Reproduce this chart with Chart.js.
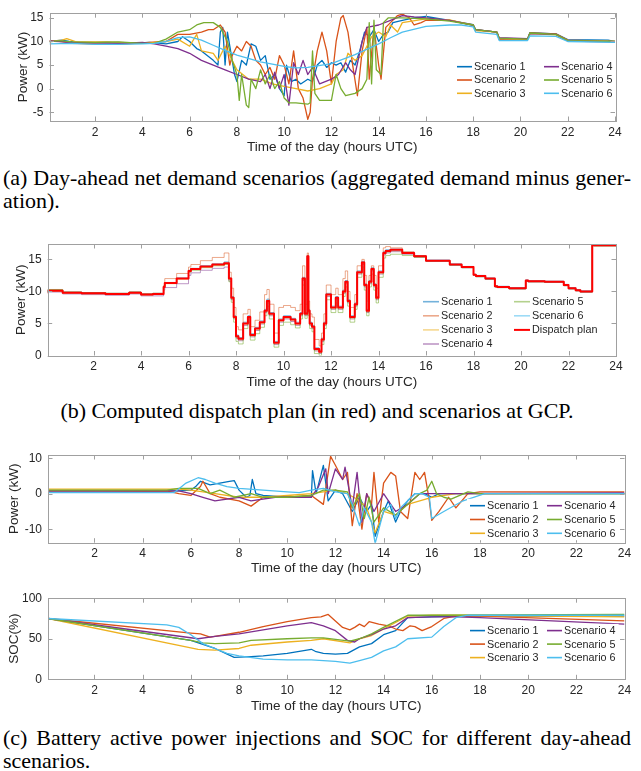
<!DOCTYPE html>
<html>
<head>
<meta charset="utf-8">
<script src="https://cdn.jsdelivr.net/npm/chart.js@4"></script>
<style>
  body { margin: 0; background: #fff; width: 641px; height: 771px; position: relative; overflow: hidden; }
  canvas { position: absolute; left: 0; }
  .cap { position: absolute; left: 3px; width: 628px; font-family: "Liberation Serif", "Times New Roman", serif;
         font-size: 22px; line-height: 23px; color: #000; white-space: nowrap; }
  .just { text-align: justify; text-align-last: justify; }
  .mid { text-align: center; }
</style>
</head>
<body>
<canvas id="netChart" width="641" height="160" style="top:0px"></canvas>
<div class="cap just" style="top:166px">(a) Day-ahead net demand scenarios (aggregated demand minus gener-</div>
<div class="cap" style="top:189px">ation).</div>

<canvas id="gcpChart" width="641" height="170" style="top:225px"></canvas>
<div class="cap mid" style="top:399px">(b) Computed dispatch plan (in red) and scenarios at GCP.</div>

<canvas id="battChart" width="641" height="140" style="top:440px"></canvas>
<canvas id="socChart" width="641" height="135" style="top:585px"></canvas>
<div class="cap just" style="top:726px">(c) Battery active power injections and SOC for different day-ahead</div>
<div class="cap" style="top:749px">scenarios.</div>

<script>
// ---- tick labels ----
const hourTicks = [2, 4, 6, 8, 10, 12, 14, 16, 18, 20, 22, 24];
const netTicks = [-5, 0, 5, 10, 15];
const gcpTicks = [0, 5, 10, 15];
const battTicks = [-10, 0, 10];
const socTicks = [0, 50, 100];

const scenarioNames = ['Scenario 1', 'Scenario 2', 'Scenario 3', 'Scenario 4', 'Scenario 5', 'Scenario 6'];

// ---- (a) day-ahead net demand, [hour, kW] ----
const net1 = [[0.07,10.0],[0.6,10.3],[0.9,10.0],[1.5,9.7],[2.5,9.8],[3.5,9.6],[4.3,9.8],[5.0,9.5],[5.5,10.0],[5.7,11.0],[6.0,10.0],[6.3,8.5],[6.5,8.0],[7.0,6.0],[7.2,5.0],[7.3,12.0],[7.4,13.0],[7.5,5.0],[7.6,12.0],[7.7,9.0],[7.9,3.0],[8.0,1.5],[8.2,6.0],[8.4,5.0],[8.6,9.5],[8.8,9.0],[9.0,6.0],[9.2,7.0],[9.4,2.0],[9.6,3.0],[9.8,0.0],[10.0,-1.5],[10.1,5.0],[10.3,1.5],[10.5,2.0],[10.7,1.0],[11.0,2.0],[11.2,1.5],[11.4,5.0],[11.6,6.0],[11.8,4.5],[12.0,5.5],[12.2,5.0],[12.4,5.5],[12.6,3.5],[12.8,6.0],[13.0,5.0],[13.2,8.0],[13.4,12.0],[13.6,11.0],[13.8,12.5],[14.0,10.0],[14.2,11.5],[14.4,12.0],[14.6,14.0],[15.0,14.5],[15.5,15.0],[16.0,15.3],[17.0,14.5],[18.0,13.6],[18.1,12.5],[19.0,12.0],[19.1,10.5],[20.3,10.5],[20.4,11.9],[21.5,11.6],[22.0,10.4],[23.7,10.3],[24.0,10.0]];
const net2 = [[0.07,10.2],[0.6,10.0],[1.0,9.6],[2.0,9.5],[3.0,9.4],[4.0,9.7],[4.6,9.9],[5.0,10.0],[5.5,11.5],[6.0,11.5],[6.5,12.0],[6.8,12.5],[7.0,12.5],[7.3,13.5],[7.5,12.0],[7.7,5.0],[7.8,7.0],[8.0,9.0],[8.2,8.0],[8.4,10.0],[8.6,9.0],[8.8,6.0],[9.0,5.0],[9.2,3.0],[9.4,4.5],[9.6,2.0],[9.8,7.0],[10.0,5.0],[10.2,1.0],[10.4,8.0],[10.6,0.0],[10.8,-2.0],[11.0,-6.5],[11.1,-5.0],[11.2,2.0],[11.4,8.0],[11.5,10.0],[11.6,12.0],[11.8,8.0],[12.0,1.0],[12.2,10.0],[12.4,15.0],[12.5,15.5],[12.7,12.0],[12.9,5.0],[13.1,-1.5],[13.3,8.0],[13.5,13.0],[13.6,2.0],[13.8,13.0],[14.0,5.0],[14.1,2.0],[14.3,13.0],[14.5,14.0],[14.8,15.5],[15.0,15.8],[15.3,15.0],[15.5,13.5],[15.8,14.0],[16.0,14.5],[17.0,14.5],[18.0,13.5],[18.1,12.5],[19.0,12.0],[19.1,10.5],[20.3,10.5],[20.4,11.8],[21.5,11.6],[22.0,10.3],[24.0,10.0]];
const net3 = [[0.07,10.0],[0.6,10.3],[0.8,10.6],[1.2,9.9],[2.5,9.9],[3.5,9.7],[4.5,9.8],[5.0,10.0],[5.5,10.5],[6.0,9.0],[6.3,11.5],[6.5,8.0],[7.0,7.5],[7.2,6.0],[7.5,9.0],[7.8,6.0],[8.0,4.0],[8.5,2.0],[9.0,2.0],[9.5,1.0],[10.0,0.5],[10.5,0.0],[11.0,-0.5],[11.5,0.0],[12.0,1.0],[12.2,3.0],[12.5,4.0],[12.7,7.5],[13.0,6.0],[13.3,7.0],[13.5,9.0],[13.7,11.0],[14.0,12.0],[14.3,11.0],[14.5,13.5],[14.8,12.0],[15.0,14.0],[16.0,14.8],[17.0,14.6],[18.0,13.4],[18.1,12.3],[19.0,12.0],[19.1,10.6],[20.3,10.5],[20.4,11.7],[21.5,11.4],[22.0,10.2],[24.0,10.0]];
const net4 = [[0.07,10.1],[0.5,10.0],[1.0,9.8],[2.0,9.7],[3.0,9.6],[4.0,9.8],[4.5,9.5],[5.0,9.0],[5.5,8.5],[6.0,7.5],[6.5,6.0],[7.0,5.0],[7.5,4.0],[8.0,3.0],[8.5,2.0],[9.0,1.5],[9.2,3.0],[9.4,0.0],[9.6,3.5],[9.8,0.0],[10.0,3.0],[10.2,-3.5],[10.4,5.5],[10.6,3.0],[10.8,6.0],[11.0,3.0],[11.2,4.5],[11.5,1.0],[12.0,2.0],[12.3,3.0],[12.6,5.5],[12.8,4.0],[13.0,3.0],[13.3,10.0],[13.5,13.0],[14.0,13.5],[14.5,14.5],[15.0,15.5],[15.5,15.2],[16.0,15.0],[17.0,14.5],[18.0,13.4],[18.1,12.5],[19.0,12.0],[19.1,10.8],[20.3,10.6],[20.4,11.7],[21.5,11.5],[22.0,10.1],[24.0,9.9]];
const net5 = [[0.07,9.9],[0.5,10.2],[1.0,9.9],[2.0,9.8],[3.0,9.9],[4.0,9.6],[4.5,9.6],[5.0,10.5],[5.5,12.0],[6.0,12.5],[6.3,13.5],[6.6,14.0],[7.0,14.0],[7.3,13.0],[7.6,10.0],[7.8,6.0],[8.0,3.0],[8.1,-2.5],[8.2,3.0],[8.4,-3.5],[8.5,-4.0],[8.6,2.0],[8.8,0.0],[9.0,4.0],[9.2,1.0],[9.4,3.0],[9.6,0.0],[9.8,1.5],[10.0,-2.0],[10.2,-3.0],[10.5,-3.0],[11.0,-3.3],[11.1,-3.0],[11.2,8.0],[11.3,-1.0],[11.5,-2.5],[12.0,-2.5],[12.2,3.0],[12.4,0.0],[12.6,-1.5],[13.0,-1.0],[13.3,0.0],[13.5,2.0],[13.6,14.0],[13.7,1.0],[13.8,14.5],[13.9,4.0],[14.1,3.0],[14.2,14.0],[14.4,15.0],[15.0,15.0],[16.0,14.8],[17.0,14.3],[18.0,13.5],[18.1,12.5],[19.0,12.0],[19.1,10.7],[20.3,10.5],[20.4,11.8],[21.5,11.5],[22.0,10.2],[24.0,10.0]];
const net6 = [[0.07,9.5],[1.0,9.6],[2.0,9.4],[3.0,9.4],[4.0,9.5],[4.5,9.6],[5.0,10.0],[5.5,10.8],[6.0,11.0],[6.5,10.3],[7.0,9.2],[7.5,8.1],[8.0,7.1],[9.0,5.7],[10.0,4.7],[10.5,4.4],[11.0,4.5],[12.0,5.3],[13.0,7.2],[14.0,9.5],[14.5,10.8],[15.0,12.0],[16.0,13.2],[17.0,13.5],[17.5,13.5],[18.0,13.1],[18.1,12.0],[19.0,11.5],[19.1,10.2],[20.3,10.2],[20.4,11.2],[21.5,11.1],[22.0,10.0],[24.0,9.8]];

// ---- (b) dispatch plan and scenarios at GCP (kW) on a shared hour grid ----
const gcpHours = [0.07, 0.7, 1.5, 2.5, 3.5, 4.0, 4.5, 4.95, 5.0, 5.5,
  6.0, 6.1, 6.5, 7.0, 7.5, 7.7, 7.8, 7.9, 8.0, 8.1,
  8.3, 8.5, 8.6, 8.8, 9.0, 9.2, 9.3, 9.4, 9.6, 9.8,
  10.0, 10.3, 10.5, 10.7, 10.8, 10.9, 11.0, 11.05, 11.1, 11.2,
  11.3, 11.5, 11.6, 11.7, 11.8, 12.0, 12.2, 12.3, 12.5, 12.6,
  12.7, 12.8, 13.0, 13.1, 13.3, 13.4, 13.5, 13.6, 13.7, 13.8,
  13.9, 14.0, 14.2, 14.3, 14.5, 15.0, 15.5, 16.0, 17.0, 17.5,
  18.0, 18.1, 18.5, 18.9, 19.0, 19.5, 20.2, 20.3, 21.0, 21.8,
  22.0, 22.3, 22.5, 23.0, 23.05, 24.0];
const dispatchPlan = [9.8, 10.1, 9.8, 9.7, 9.6, 9.8, 9.5, 9.6, 10.7, 11.3,
  12.0, 13.2, 13.5, 13.9, 14.2, 14.4, 12.0, 9.0, 6.0, 3.0,
  2.6, 5.0, 6.0, 3.2, 4.2, 5.2, 7.0, 8.5, 6.5, 2.0,
  5.5, 6.0, 5.6, 5.0, 6.5, 12.0, 6.5, 15.5, 7.0, 5.0,
  4.5, 1.0, 0.6, 2.5, 5.0, 9.5, 7.5, 9.0, 7.5, 10.0,
  11.5, 8.5, 6.0, 8.0, 13.0, 14.5, 11.0, 7.0, 11.5, 13.5,
  11.0, 9.0, 13.0, 16.0, 16.3, 16.5, 16.0, 15.5, 14.8, 14.2,
  13.8, 12.6, 12.4, 12.0, 10.8, 10.7, 10.5, 11.7, 11.6, 11.5,
  11.0, 10.5, 10.2, 10.0, 17.3, 17.2];
const gcp1 = [9.9, 10.2, 9.9, 9.8, 9.7, 9.9, 9.6, 9.7, 10.8, 11.4,
  12.1, 13.3, 13.6, 14.0, 14.3, 14.6, 12.1, 9.2, 6.2, 3.2,
  2.8, 5.2, 6.2, 3.4, 4.4, 5.4, 7.2, 8.8, 6.7, 2.2,
  5.7, 6.2, 5.8, 5.2, 6.7, 12.2, 6.7, 15.6, 7.2, 5.2,
  4.7, 1.2, 0.8, 2.7, 5.2, 9.7, 7.7, 9.2, 7.7, 10.2,
  11.7, 8.7, 6.2, 8.2, 13.2, 14.7, 11.2, 7.2, 11.7, 13.7,
  11.2, 9.2, 13.2, 16.2, 16.5, 16.6, 16.1, 15.6, 14.9, 14.3,
  13.9, 12.7, 12.5, 12.1, 10.9, 10.8, 10.6, 11.8, 11.7, 11.6,
  11.1, 10.6, 10.3, 10.1, 17.4, 17.3];
const gcp2 = [9.9, 10.3, 9.9, 9.8, 9.7, 9.9, 9.6, 9.7, 10.9, 12.0,
  12.8, 13.8, 14.2, 14.8, 15.3, 16.0, 13.0, 10.5, 7.5, 4.5,
  4.0, 6.5, 7.2, 4.5, 5.5, 6.8, 9.5, 10.3, 8.0, 3.5,
  7.5, 7.8, 7.5, 7.0, 8.0, 14.0, 8.0, 16.0, 8.5, 6.5,
  6.0, 2.5, 1.5, 3.5, 6.5, 11.0, 9.5, 10.5, 9.5, 12.0,
  13.2, 10.0, 7.5, 9.5, 14.0, 15.0, 12.5, 8.5, 12.5, 14.0,
  12.5, 10.5, 14.0, 16.8, 17.0, 16.8, 16.2, 15.6, 14.8, 14.2,
  13.8, 12.6, 12.4, 12.0, 10.8, 10.7, 10.5, 11.7, 11.6, 11.5,
  11.0, 10.5, 10.2, 10.0, 17.3, 17.2];
const gcp3 = [9.7, 10.0, 9.7, 9.6, 9.5, 9.7, 9.4, 9.5, 10.6, 11.2,
  11.9, 13.0, 13.4, 13.8, 14.1, 14.3, 11.8, 8.8, 5.8, 2.8,
  2.4, 4.8, 5.8, 3.0, 4.0, 5.0, 6.8, 8.3, 6.3, 1.8,
  5.3, 5.8, 5.4, 4.8, 6.3, 11.8, 6.3, 15.3, 6.8, 4.8,
  4.3, 0.8, 0.4, 2.3, 4.8, 9.3, 7.3, 8.8, 7.3, 9.8,
  11.3, 8.3, 5.8, 7.8, 12.8, 14.3, 10.8, 6.8, 11.3, 13.3,
  10.8, 8.8, 12.8, 15.8, 16.1, 16.3, 15.9, 15.4, 14.7, 14.1,
  13.7, 12.5, 12.3, 11.9, 10.7, 10.6, 10.4, 11.6, 11.5, 11.4,
  10.9, 10.4, 10.1, 9.9, 17.2, 17.1];
const gcp4 = [9.6, 9.9, 9.6, 9.5, 9.4, 9.6, 9.3, 9.3, 10.2, 10.6,
  11.2, 12.5, 12.9, 13.3, 13.6, 13.8, 11.6, 8.7, 5.7, 2.7,
  2.3, 4.7, 5.7, 2.9, 3.9, 4.9, 6.7, 8.2, 6.2, 1.7,
  5.2, 5.7, 5.3, 4.7, 6.2, 11.7, 6.2, 15.2, 6.7, 4.7,
  4.2, 0.7, 0.3, 2.2, 4.7, 9.2, 7.2, 8.7, 7.2, 9.7,
  11.2, 8.2, 5.7, 7.7, 12.7, 14.2, 10.7, 6.7, 11.2, 13.2,
  10.7, 8.7, 12.7, 15.7, 16.0, 16.2, 15.8, 15.4, 14.7, 14.1,
  13.7, 12.5, 12.3, 11.9, 10.7, 10.6, 10.4, 11.6, 11.5, 11.4,
  10.9, 10.4, 10.1, 9.9, 17.2, 17.1];
const gcp5 = [9.9, 10.3, 9.9, 9.8, 9.7, 9.9, 9.6, 9.7, 10.8, 11.3,
  12.0, 13.0, 13.3, 13.7, 14.0, 14.2, 11.5, 8.3, 5.2, 2.2,
  1.8, 4.2, 5.2, 2.4, 3.4, 4.4, 6.2, 7.7, 5.7, 1.3,
  4.7, 5.2, 4.8, 4.3, 5.7, 11.0, 5.8, 14.8, 6.2, 4.2,
  3.7, 0.3, 0.0, 1.7, 4.2, 8.7, 6.7, 8.2, 6.7, 9.2,
  10.7, 7.7, 5.2, 7.2, 12.2, 13.8, 10.2, 6.2, 10.7, 12.7,
  10.2, 8.2, 12.2, 15.2, 15.6, 15.8, 15.6, 15.3, 14.7, 14.1,
  13.7, 12.5, 12.3, 11.9, 10.7, 10.6, 10.4, 11.6, 11.5, 11.4,
  10.9, 10.4, 10.1, 9.9, 17.2, 17.1];
const gcp6 = [9.8, 10.1, 9.8, 9.7, 9.6, 9.8, 9.5, 9.6, 10.7, 11.3,
  12.0, 13.1, 13.5, 13.9, 14.2, 14.4, 12.0, 9.0, 6.0, 3.0,
  2.6, 5.0, 6.0, 3.2, 4.2, 5.2, 7.0, 8.6, 6.5, 2.0,
  5.5, 6.0, 5.6, 5.0, 6.5, 12.0, 6.5, 15.5, 7.0, 5.0,
  4.5, 1.0, 0.6, 2.5, 5.0, 9.5, 7.5, 9.0, 7.5, 10.0,
  11.5, 8.5, 6.0, 8.0, 13.0, 14.5, 11.0, 7.0, 11.5, 13.5,
  11.0, 9.0, 13.0, 16.0, 16.2, 16.4, 15.9, 15.4, 14.7, 14.1,
  13.7, 12.5, 12.3, 11.9, 10.7, 10.6, 10.4, 11.6, 11.5, 11.4,
  10.9, 10.4, 10.1, 9.9, 17.2, 17.2];

// ---- (c) battery power injections, [hour, kW] ----
const batt1 = [[0.07,0.8],[2.0,0.8],[4.0,0.8],[5.5,0.8],[6.0,1.0],[6.2,2.0],[6.4,3.5],[6.8,2.5],[7.2,3.0],[7.6,3.5],[7.8,3.7],[8.0,1.0],[8.3,-1.0],[8.45,-0.5],[8.55,4.0],[8.7,0.0],[9.0,-0.5],[10.0,-1.0],[11.0,-1.0],[11.05,6.5],[11.2,0.0],[11.5,8.0],[11.7,-2.0],[12.0,1.0],[12.3,0.0],[12.7,-5.0],[13.0,-1.0],[13.3,-5.0],[13.5,-3.0],[13.65,-12.0],[14.0,-5.0],[14.2,-2.0],[14.5,-8.0],[14.7,-5.0],[15.0,-2.0],[15.3,0.0],[15.7,0.0],[16.0,-1.0],[16.3,0.0],[18.0,0.0],[24.0,0.0]];
const batt2 = [[0.07,0.8],[2.0,0.8],[4.0,0.7],[5.0,0.8],[5.5,0.0],[6.0,-0.5],[6.4,2.0],[6.5,3.5],[6.8,0.0],[7.2,-1.0],[8.0,-2.0],[8.5,-3.5],[9.0,-1.0],[10.0,-1.0],[11.0,-0.5],[11.5,-3.0],[11.8,10.5],[12.0,8.0],[12.3,4.0],[12.5,6.0],[12.7,-9.0],[12.9,0.0],[13.1,-10.0],[13.3,0.0],[13.5,-3.0],[13.6,6.0],[13.8,-8.0],[14.0,3.0],[14.3,6.0],[14.5,5.0],[14.7,-5.0],[15.0,-7.0],[15.3,6.0],[15.5,4.0],[15.7,6.0],[15.9,-2.0],[16.0,-7.5],[16.3,-5.0],[16.7,-1.0],[17.0,-4.0],[17.5,0.0],[18.0,0.5],[24.0,0.5]];
const batt3 = [[0.07,1.3],[2.0,1.3],[4.0,1.3],[5.5,1.3],[6.0,1.0],[7.0,0.0],[8.0,-1.0],[9.0,-1.0],[10.0,-0.5],[11.0,0.0],[12.0,1.0],[12.5,0.0],[13.0,-2.0],[13.3,-4.0],[13.65,-11.0],[14.0,-5.0],[14.5,-6.0],[15.0,-3.0],[16.0,-1.0],[17.0,0.0],[24.0,0.0]];
const batt4 = [[0.07,0.8],[2.0,0.8],[4.0,0.8],[5.5,0.8],[6.0,0.0],[6.5,-1.0],[7.0,-2.0],[8.0,-1.0],[8.5,-2.0],[9.5,-1.0],[11.0,-1.0],[11.3,2.0],[11.6,7.0],[11.7,0.0],[12.0,7.0],[12.3,4.0],[12.4,7.5],[12.7,-4.0],[12.9,6.0],[13.1,-8.0],[13.3,0.0],[13.6,-5.0],[14.0,0.0],[14.3,-3.0],[14.5,-5.0],[15.0,-3.0],[15.5,0.0],[16.0,0.0],[17.0,0.0],[24.0,0.2]];
const batt5 = [[0.07,1.0],[2.0,1.0],[5.0,1.0],[5.5,1.5],[6.3,1.5],[6.8,0.0],[7.2,1.0],[7.8,-1.0],[8.5,0.0],[9.0,-1.0],[10.0,-1.0],[11.0,-0.5],[11.5,1.0],[12.0,1.0],[12.5,0.5],[12.7,-4.0],[13.0,0.0],[13.2,-7.0],[13.4,-1.0],[13.6,-8.0],[14.0,-4.0],[14.5,-6.0],[15.0,-3.0],[15.5,0.0],[15.8,1.0],[16.0,3.5],[16.2,0.0],[16.5,-1.0],[16.8,-1.5],[17.5,0.5],[18.0,0.0],[24.0,0.0]];
const batt6 = [[0.07,0.3],[2.0,0.3],[4.0,0.3],[5.3,0.3],[5.8,3.0],[6.3,4.5],[6.6,4.0],[7.0,3.0],[7.5,2.0],[8.0,1.5],[9.0,1.0],[10.0,0.5],[10.5,0.3],[11.0,1.0],[11.5,1.5],[12.0,0.5],[12.5,0.0],[12.7,-3.0],[13.0,-9.0],[13.2,-4.0],[13.5,-8.0],[13.65,-14.0],[14.0,-5.0],[14.3,-3.0],[14.5,-7.0],[14.7,-4.0],[15.0,-2.0],[15.3,0.0],[15.6,0.0],[15.9,-1.0],[16.0,-7.0],[16.5,-5.0],[17.3,-2.0],[18.2,0.0],[24.0,0.0]];

// ---- (c) state of charge, [hour, %] ----
const soc1 = [[0.07,75],[6.0,48],[7.0,38],[7.8,27],[8.5,28],[9.0,29],[10.0,32],[11.0,37],[11.2,34],[11.5,32],[12.0,31],[12.5,32],[13.0,40],[13.5,44],[14.0,55],[14.5,60],[15.0,76],[16.0,77],[17.0,78],[24.0,78]];
const soc2 = [[0.07,75],[6.0,57],[6.4,56],[6.8,52],[7.0,53],[8.0,58],[9.0,65],[10.0,71],[11.0,76],[11.4,77],[11.7,80],[12.0,72],[12.3,64],[12.6,61],[12.8,64],[13.0,68],[13.2,65],[13.4,71],[13.8,68],[14.2,66],[14.5,62],[14.8,60],[15.1,66],[15.3,65],[15.6,60],[16.0,65],[16.5,75],[17.0,78],[18.0,78],[24.0,72]];
const soc3 = [[0.07,75],[6.3,37],[7.0,36],[8.0,38],[8.5,42],[10.0,46],[11.0,48],[11.5,50],[12.6,45],[13.0,50],[13.5,54],[14.0,62],[15.0,78],[16.0,79],[17.0,79],[24.0,77]];
const soc4 = [[0.07,75],[6.3,50],[7.0,53],[8.0,56],[9.0,61],[10.0,66],[11.0,70],[11.5,66],[12.0,60],[12.5,48],[12.8,46],[13.0,50],[13.5,55],[14.0,62],[14.5,66],[15.0,76],[16.0,77],[17.0,77],[18.0,76],[24.0,68]];
const soc5 = [[0.07,75],[6.0,48],[6.5,45],[7.0,44],[8.0,45],[8.5,48],[10.0,50],[11.0,51],[11.5,51],[12.6,47],[13.0,50],[13.5,56],[14.0,64],[15.0,79],[16.0,79],[24.0,80]];
const soc6 = [[0.07,75],[5.0,67],[5.5,64],[6.0,55],[6.5,44],[7.0,38],[7.5,32],[8.0,29],[9.0,25],[10.0,24],[11.0,24],[12.0,22],[12.6,20],[13.0,23],[13.5,27],[14.0,35],[14.5,40],[15.0,50],[16.0,52],[16.5,65],[17.0,76],[17.5,79],[24.0,79]];

// ---- styling ----
const lineColors = ['#0072BD', '#D95319', '#EDB120', '#7E2F8E', '#77AC30', '#4DBEEE'];
const paleColors = ['rgba(0,114,189,0.55)', 'rgba(217,83,25,0.5)', 'rgba(237,177,32,0.5)',
                    'rgba(126,47,142,0.5)', 'rgba(119,172,48,0.55)', 'rgba(77,190,238,0.55)'];
const ink = '#262626';
const sans = '"Liberation Sans", Arial, Helvetica, sans-serif';
const tickFont = { family: sans, size: 12 };
const titleFont = { family: sans, size: 13.5, lineHeight: 1.2 };

const toXY = pts => pts.map(p => ({ x: p[0], y: p[1] }));
const onGrid = vals => vals.map((v, i) => ({ x: gcpHours[i], y: v }));

// box around the axes with inward tick marks (MATLAB look)
const framePlugin = {
  id: 'frame',
  afterDatasetsDraw(chart) {
    const { ctx, chartArea: a, scales } = chart;
    ctx.save();
    ctx.strokeStyle = '#a0a0a0';
    ctx.lineWidth = 1;
    ctx.strokeRect(Math.round(a.left) + 0.5, Math.round(a.top) + 0.5,
                   Math.round(a.right - a.left), Math.round(a.bottom - a.top));
    ctx.beginPath();
    const tl = 4.5;
    scales.x.ticks.forEach(t => {
      const px = Math.round(scales.x.getPixelForValue(t.value)) + 0.5;
      ctx.moveTo(px, a.bottom); ctx.lineTo(px, a.bottom - tl);
      ctx.moveTo(px, a.top); ctx.lineTo(px, a.top + tl);
    });
    scales.y.ticks.forEach(t => {
      const py = Math.round(scales.y.getPixelForValue(t.value)) + 0.5;
      ctx.moveTo(a.left, py); ctx.lineTo(a.left + tl, py);
      ctx.moveTo(a.right, py); ctx.lineTo(a.right - tl, py);
    });
    ctx.stroke();
    ctx.restore();
  }
};

// legend drawn inside the plot, filled column by column
const boxLegendPlugin = {
  id: 'boxLegend',
  afterDraw(chart, args, opts) {
    if (!opts || !opts.cols) return;
    const ctx = chart.ctx;
    const sets = chart.data.datasets;
    ctx.save();
    ctx.font = `${opts.fontSize}px ${sans}`;
    ctx.textBaseline = 'middle';
    const nRows = opts.perCol;
    const lastCol = opts.cols.length - 1;
    const lastText = Math.max(...sets.slice(lastCol * nRows).map(d => ctx.measureText(d.label).width));
    const x0 = opts.cols[0] - 3;
    const x1 = opts.cols[lastCol] + opts.lineLen + 2 + lastText + 3;
    ctx.fillStyle = '#fff';
    ctx.fillRect(x0, opts.top - opts.dy / 2, x1 - x0, opts.dy * nRows);
    sets.forEach((d, i) => {
      const col = Math.floor(i / nRows);
      const row = i % nRows;
      const x = opts.cols[col];
      const y = opts.top + row * opts.dy;
      ctx.strokeStyle = d.borderColor;
      ctx.lineWidth = d.legendWidth || 1.6;
      ctx.beginPath();
      ctx.moveTo(x, y); ctx.lineTo(x + opts.lineLen, y);
      ctx.stroke();
      ctx.fillStyle = ink;
      ctx.fillText(d.label, x + opts.lineLen + 2, y + 0.5);
    });
    ctx.restore();
  }
};

function makeChart(id, cfg) {
  const canvas = document.getElementById(id);
  const xAxisH = canvas.height - cfg.bottom;
  return new Chart(canvas, {
    type: 'line',
    data: { datasets: cfg.datasets },
    options: {
      responsive: false,
      animation: false,
      devicePixelRatio: 1,
      layout: { padding: { left: 0, top: cfg.top, right: 641 - cfg.right, bottom: 0 } },
      elements: { point: { radius: 0 }, line: { tension: 0, borderJoinStyle: 'round' } },
      plugins: {
        legend: { display: false },
        tooltip: { enabled: false },
        boxLegend: cfg.legend
      },
      scales: {
        x: {
          type: 'linear', min: 0.07, max: 24,
          afterBuildTicks: s => { s.ticks = hourTicks.map(v => ({ value: v })); },
          afterFit: s => { s.height = xAxisH; },
          grid: { display: false, drawTicks: false },
          border: { display: false },
          ticks: { color: ink, font: tickFont, padding: 4, maxRotation: 0, autoSkip: false,
                   callback: v => String(v) },
          title: { display: true, text: 'Time of the day (hours UTC)', color: ink, font: titleFont,
                   padding: { top: 0, bottom: xAxisH - cfg.xTitleGap - 8.1 } }
        },
        y: {
          type: 'linear', min: cfg.yMin, max: cfg.yMax,
          afterBuildTicks: s => { s.ticks = cfg.yTicks.map(v => ({ value: v })); },
          afterFit: s => { s.width = cfg.left; },
          grid: { display: false, drawTicks: false },
          border: { display: false },
          ticks: { color: ink, font: tickFont, padding: 6, callback: v => String(v) },
          title: { display: true, text: cfg.yTitle, color: ink, font: titleFont,
                   padding: { top: cfg.yTitleX - 8.1, bottom: 0 } }
        }
      }
    },
    plugins: [framePlugin, boxLegendPlugin]
  });
}

function scenarioSets(series, colors, extra) {
  return series.map((s, i) => Object.assign({
    label: scenarioNames[i],
    data: s,
    borderColor: colors[i],
    borderWidth: 1.3,
    order: 20 - i
  }, extra || {}));
}

// (a)
makeChart('netChart', {
  top: 10, bottom: 121, left: 49.5, right: 615,
  yMin: -6.86, yMax: 16.0, yTicks: netTicks, yTitle: 'Power (kW)', yTitleX: 23.3, xTitleGap: 26,
  datasets: scenarioSets([net1, net2, net3, net4, net5, net6].map(toXY), lineColors),
  legend: { cols: [457, 544], top: 66.7, dy: 13.3, perCol: 3, lineLen: 15, fontSize: 10.8 }
});

// (b)
const gcpSets = scenarioSets([gcp1, gcp2, gcp3, gcp4, gcp5, gcp6].map(onGrid), paleColors,
                             { stepped: 'after', borderWidth: 1 });
gcpSets.push({ label: 'Dispatch plan', data: onGrid(dispatchPlan), borderColor: '#FF0000',
               borderWidth: 2, legendWidth: 2, stepped: 'after', order: 0 });
makeChart('gcpChart', {
  top: 19, bottom: 355.5 - 225, left: 47.7, right: 616,
  yMin: 0, yMax: 17.4, yTicks: gcpTicks, yTitle: 'Power (kW)', yTitleX: 21.5, xTitleGap: 27,
  datasets: gcpSets,
  legend: { cols: [423, 514], top: 301.7 - 225, dy: 14.1, perCol: 4, lineLen: 16, fontSize: 10.8 }
});

// (c) battery power
makeChart('battChart', {
  top: 15, bottom: 542.7 - 440, left: 48, right: 624.5,
  yMin: -13.8, yMax: 10.9, yTicks: battTicks, yTitle: 'Power (kW)', yTitleX: 14.3, xTitleGap: 25.3,
  datasets: scenarioSets([batt1, batt2, batt3, batt4, batt5, batt6].map(toXY), lineColors),
  legend: { cols: [470, 547], top: 505.7 - 440, dy: 13.8, perCol: 3, lineLen: 15, fontSize: 10.8 }
});

// (c) SOC
makeChart('socChart', {
  top: 7, bottom: 679.3 - 585, left: 48, right: 624.5,
  yMin: 0, yMax: 100, yTicks: socTicks, yTitle: 'SOC(%)', yTitleX: 14, xTitleGap: 27.4,
  datasets: scenarioSets([soc1, soc2, soc3, soc4, soc5, soc6].map(toXY), lineColors),
  legend: { cols: [470, 547], top: 630.6 - 585, dy: 13.5, perCol: 3, lineLen: 15, fontSize: 10.8 }
});
</script>
</body>
</html>
